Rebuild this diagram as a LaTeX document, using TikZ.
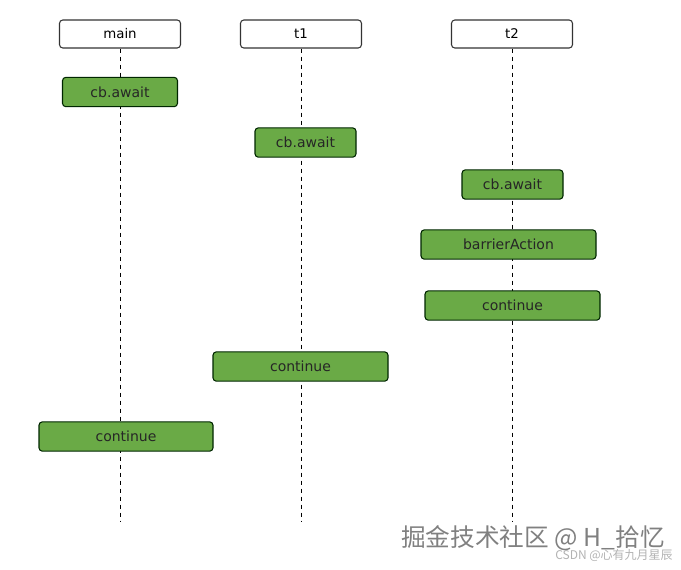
\documentclass[tikz,border=0pt]{standalone}
\usepackage{fontspec}
\setmainfont{DejaVu Sans}
\newfontfamily\cjk{Noto Sans CJK SC}
\usetikzlibrary{positioning,shadows}

\tikzset{
  head/.style={draw=black!80, fill=white, rounded corners=2.5pt, line width=0.8pt,
    minimum width=90.75pt, minimum height=21pt, inner sep=0pt, font=\fontsize{10}{12}\selectfont},
  act/.style={draw=black!85!green, fill=actgreen, rounded corners=2.5pt, line width=0.8pt,
    minimum height=22pt, inner sep=0pt, text=black!85, font=\fontsize{10.5}{12}\selectfont},
  life/.style={dash pattern=on 3.5pt off 2.5pt, line width=0.7pt}
}
\definecolor{actgreen}{RGB}{106,170,70}

\begin{document}
\begin{tikzpicture}[x=0.75pt,y=-0.75pt]
  \useasboundingbox (0,0) rectangle (681,569);

  % threads
  \node[head] (main) at (120,34) {main};
  \node[head] (t1) at (301,34) {t1};
  \node[head] (t2) at (512,34) {t2};

  \coordinate (mainend) at (120,522);
  \coordinate (t1end) at (301,522);
  \coordinate (t2end) at (512,522);

  \draw[life] (main) -- (mainend);
  \draw[life] (t1) -- (t1end);
  \draw[life] (t2) -- (t2end);

  % actions
  \node[act, minimum width=86.25pt] (mainawait) at (120,92) {cb.await};
  \node[act, minimum width=75.75pt] (t1await) at (305.5,142.5) {cb.await};
  \node[act, minimum width=75.75pt] (t2await) at (512.5,184.5) {cb.await};
  \node[act, minimum width=131.25pt] (barrier) at (508.5,244.5) {barrierAction};
  \node[act, minimum width=131.25pt] (t2cont) at (512.5,305.5) {continue};
  \node[act, minimum width=131.25pt] (t1cont) at (300.5,366.5) {continue};
  \node[act, minimum width=130.5pt] (maincont) at (126,436.5) {continue};

  % watermarks
  \node[text=black!50, font=\cjk\fontsize{18.5}{20}\selectfont, anchor=west, inner sep=0pt]
    (mark) at (401,538) {掘金技术社区 @ H\_拾忆};
  \node[text=black!30, font=\cjk\fontsize{9}{10}\selectfont, anchor=east, inner sep=0pt]
    (csdn) at (673,555) {CSDN @心有九月星辰};
\end{tikzpicture}
\end{document}
